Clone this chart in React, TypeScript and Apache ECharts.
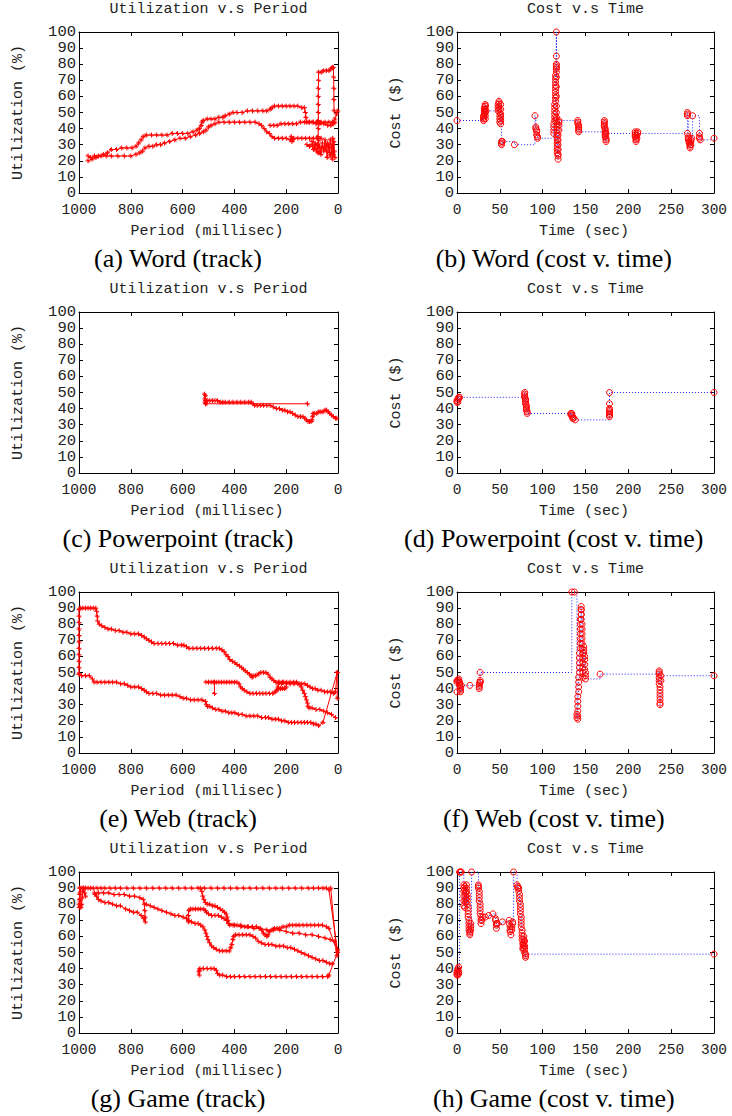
import React, { useEffect, useRef } from "react";
import * as echarts from "echarts";

type Pt = [number, number];

// ---------- (a) Word (track): [period ms, utilization %] ----------
const wordUpper: Pt[] = [
  [965, 23], [955, 22], [940, 23], [925, 23], [905, 24], [890, 25], [875, 27], [855, 27], [835, 28], [815, 28],
  [795, 28], [780, 29], [770, 31], [760, 33], [752, 35], [740, 36], [720, 36], [700, 36], [680, 36], [660, 36],
  [640, 37], [620, 37], [600, 37], [580, 37], [560, 38], [545, 39], [535, 40], [528, 42], [525, 44], [520, 45],
  [505, 46], [490, 46], [475, 46], [460, 47], [445, 47], [435, 48], [420, 49], [405, 50], [390, 50], [370, 50],
  [350, 51], [330, 51], [310, 51], [290, 51], [275, 51], [262, 52], [255, 53], [245, 54], [230, 54], [215, 54],
  [200, 54], [185, 54], [170, 54], [155, 54], [140, 53], [130, 53], [126, 50], [124, 47], [122, 44], [110, 44],
  [95, 44], [80, 44], [65, 44], [50, 44], [35, 44], [22, 44], [12, 46], [6, 49], [1, 51],
];
const wordLower: Pt[] = [
  [965, 20], [950, 21], [935, 22], [915, 23], [895, 23], [875, 23], [850, 23], [825, 23], [800, 23], [780, 24],
  [765, 25], [755, 26], [745, 28], [730, 29], [715, 29], [700, 30], [685, 30], [670, 31], [650, 32], [630, 33],
  [610, 34], [590, 34], [570, 35], [550, 36], [535, 37], [520, 38], [510, 39], [500, 41], [490, 42], [475, 43],
  [460, 44], [440, 44], [420, 44], [400, 44], [380, 44], [360, 44], [340, 44], [320, 44], [305, 43], [295, 42],
  [285, 40], [275, 38], [265, 37], [255, 35], [245, 34], [230, 34], [215, 34], [200, 34], [185, 33], [180, 35],
  [178, 32], [175, 33], [170, 34], [155, 34], [140, 34], [125, 34], [110, 34], [95, 34], [80, 34], [65, 34],
];
const wordMid: Pt[] = [
  [262, 42], [248, 42], [235, 42], [220, 43], [205, 43], [190, 43], [175, 43], [160, 43], [145, 44], [130, 44],
  [115, 44], [100, 44], [85, 43], [70, 43], [55, 43], [40, 42], [28, 42], [18, 43], [12, 44],
];
const wordSpike: Pt[] = [
  [78, 25], [77, 30], [77, 35], [76, 40], [76, 45], [76, 50], [76, 55], [76, 60], [76, 65], [75, 70],
  [75, 75], [65, 75], [55, 76], [45, 76], [35, 76], [28, 77], [22, 78], [18, 78], [17, 72], [16, 65],
  [16, 58], [15, 51],
];
const wordNoise: Pt[] = [
  [120, 30], [110, 29], [100, 30], [95, 27], [88, 31], [82, 26], [75, 33], [70, 28], [66, 24], [60, 31],
  [55, 26], [50, 33], [46, 29], [42, 22], [38, 30], [34, 25], [30, 33], [26, 28], [22, 21], [20, 30],
  [18, 24], [16, 32], [14, 26], [12, 22], [20, 34], [30, 23], [40, 31], [50, 27], [60, 29], [70, 25],
  [80, 30], [90, 28], [100, 32],
];

// ---------- (b) Word (cost v. time): [sec, $] ----------
const wordCost: Pt[] = [
  [0, 45],
  [31, 45], [31, 46], [31, 47], [31, 48], [32, 49], [32, 50], [32, 51], [32, 52], [32, 53], [33, 54], [33, 55],
  [33, 54], [33, 52], [33, 50], [33, 48], [33, 46], [34, 51],
  [48, 51], [48, 53], [48, 55], [49, 57], [49, 56], [49, 54], [49, 52], [50, 50], [50, 48], [50, 46], [50, 44],
  [51, 43], [51, 45], [51, 47], [51, 49], [51, 52], [51, 55],
  [52, 32], [52, 31], [52, 30], [53, 32], [67, 30],
  [91, 48], [92, 41], [92, 40], [93, 39], [93, 38], [93, 36], [94, 35], [94, 34],
  [113, 37], [113, 39], [113, 41], [113, 43], [114, 45], [114, 47], [114, 49], [114, 51], [114, 53], [114, 55],
  [115, 57], [115, 59], [115, 61], [115, 63], [115, 65], [115, 67], [115, 69], [115, 71], [115, 73], [116, 75],
  [116, 77], [116, 79], [116, 80], [116, 85], [116, 100], [116, 78], [116, 72], [116, 66], [116, 60], [116, 54],
  [116, 50], [116, 47], [116, 45], [117, 43], [117, 41], [117, 39], [117, 37], [117, 35], [117, 33], [117, 31],
  [117, 29], [117, 27], [117, 25], [118, 23], [118, 21], [118, 24], [118, 27], [118, 30], [118, 33], [118, 36],
  [119, 39], [119, 42], [119, 44], [119, 45],
  [141, 45], [141, 44], [141, 43], [142, 42], [142, 41], [142, 40], [142, 39], [142, 38],
  [172, 45], [172, 44], [172, 43], [172, 42], [172, 41], [173, 40], [173, 39], [173, 38], [173, 37], [173, 36],
  [173, 35], [174, 34], [174, 33], [174, 32], [174, 37],
  [208, 38], [208, 37], [208, 36], [208, 35], [209, 34], [209, 33], [209, 32], [210, 34], [210, 36], [211, 38],
  [211, 37],
  [269, 37], [269, 50], [269, 49], [269, 48], [270, 35], [270, 34], [270, 33], [271, 32], [271, 31], [272, 30],
  [272, 29], [272, 28], [273, 30], [273, 32], [273, 33], [274, 34], [275, 48],
  [283, 37], [283, 35], [283, 34], [284, 33], [300, 34],
];

// ---------- (c) Powerpoint (track) ----------
const pptTrack: Pt[] = [
  [515, 49], [514, 46], [513, 44], [512, 48], [511, 45], [510, 43], [505, 45], [495, 45], [485, 45], [475, 45],
  [465, 45], [455, 44], [445, 44], [435, 44], [420, 44], [405, 44], [390, 44], [375, 44], [360, 44], [345, 44],
  [335, 44], [328, 43], [322, 42], [312, 42], [300, 42], [288, 42], [275, 42], [262, 42], [250, 41], [238, 40],
  [226, 40], [215, 39], [205, 39], [195, 38], [185, 38], [175, 37], [165, 36], [155, 35], [145, 35], [135, 35],
  [128, 34], [122, 33], [116, 32], [110, 32], [104, 32], [100, 33], [98, 35], [96, 37], [90, 37], [82, 37],
  [74, 38], [66, 38], [58, 38], [50, 39], [44, 39], [38, 38], [32, 37], [25, 36], [18, 35], [10, 34], [5, 34],
];
const pptFlat: Pt[] = [[512, 43], [118, 43]];

// ---------- (d) Powerpoint (cost v. time) ----------
const pptCost: Pt[] = [
  [0, 44], [0, 45], [1, 44], [1, 46], [2, 47], [2, 46], [3, 47],
  [79, 50], [79, 49], [79, 48], [79, 47], [80, 46], [80, 45], [80, 44], [80, 43], [81, 42], [81, 41], [81, 40],
  [81, 39], [82, 38], [82, 37],
  [133, 37], [133, 36], [134, 37], [134, 36], [135, 35], [135, 34], [136, 34], [138, 33],
  [178, 35], [178, 36], [178, 37], [178, 38], [178, 39], [178, 40], [178, 43], [178, 50], [300, 50],
];

// ---------- (e) Web (track) ----------
const webUpper: Pt[] = [
  [1000, 49], [1000, 53], [1000, 57], [1000, 61], [1000, 65], [1000, 69], [1000, 73], [1000, 77], [1000, 81], [1000, 85],
  [1000, 89], [995, 90], [985, 90], [975, 90], [965, 90], [955, 90], [945, 90], [935, 90], [932, 88], [930, 85],
  [928, 82], [922, 80], [912, 79], [900, 78], [888, 77], [875, 77], [860, 76], [845, 76], [830, 75], [815, 75],
  [800, 74], [785, 74], [770, 74], [758, 73], [748, 72], [740, 71], [730, 70], [720, 69], [710, 68], [695, 68],
  [680, 68], [665, 68], [650, 68], [635, 68], [620, 67], [605, 67], [595, 67], [585, 66], [575, 65], [560, 65],
  [545, 65], [530, 65], [515, 65], [500, 65], [485, 65], [470, 65], [458, 65], [448, 64], [440, 63], [432, 61],
  [425, 60], [418, 58], [408, 57], [398, 56], [390, 55], [380, 54], [372, 53], [365, 52], [358, 51], [350, 50],
  [342, 49], [336, 48], [332, 47], [328, 48], [318, 48], [308, 49], [298, 50], [288, 50], [278, 50], [270, 49],
  [262, 47], [255, 46], [248, 45], [240, 44], [228, 44], [215, 44], [200, 43], [185, 43], [170, 43], [155, 43],
  [140, 43], [128, 43], [118, 42], [108, 41], [98, 40], [88, 40], [78, 39], [65, 39], [52, 38], [40, 38],
  [28, 38], [18, 37], [10, 38], [3, 50], [3, 34],
];
const webLower: Pt[] = [
  [1000, 49], [990, 48], [975, 48], [960, 48], [948, 46], [942, 44], [930, 44], [915, 44], [900, 44], [885, 44],
  [870, 44], [855, 44], [840, 43], [825, 43], [812, 42], [800, 41], [785, 41], [770, 41], [758, 40], [748, 39],
  [740, 38], [730, 37], [715, 37], [700, 37], [685, 36], [670, 36], [655, 36], [640, 36], [625, 36], [610, 35],
  [598, 34], [585, 34], [570, 33], [555, 33], [540, 33], [525, 33], [512, 32], [508, 30], [504, 29], [495, 29],
  [485, 28], [472, 27], [460, 27], [448, 26], [435, 26], [422, 25], [410, 25], [398, 25], [385, 24], [370, 24],
  [355, 23], [340, 23], [325, 23], [310, 23], [295, 22], [280, 22], [268, 22], [255, 21], [242, 21], [230, 21],
  [218, 20], [205, 20], [192, 19], [180, 19], [168, 19], [155, 19], [142, 19], [130, 19], [118, 19], [105, 19],
  [95, 18], [85, 18], [75, 17], [58, 19], [3, 50],
];
const webMid: Pt[] = [
  [510, 44], [500, 44], [490, 44], [480, 44], [470, 44], [460, 44], [450, 44], [440, 44], [430, 44], [420, 44],
  [410, 44], [400, 44], [390, 44], [382, 43], [376, 41], [370, 40], [362, 39], [352, 38], [340, 37], [328, 37],
  [315, 37], [302, 37], [290, 37], [278, 37], [265, 37], [252, 37], [242, 38], [236, 39], [232, 41], [230, 43],
  [228, 44], [218, 43], [210, 44], [198, 44], [185, 44], [172, 44], [160, 44], [150, 43], [142, 41], [136, 39],
  [130, 37], [126, 35], [122, 33], [118, 31], [116, 29], [112, 28], [100, 28], [85, 27], [70, 27], [55, 26],
  [40, 25], [25, 24], [10, 22],
];
const webStem: Pt[] = [[477, 44], [477, 37]];
const webBlip: Pt[] = [[230, 40], [222, 40], [214, 40], [206, 40], [200, 41]];

// ---------- (f) Web (cost v. time) ----------
const webCost: Pt[] = [
  [0, 45], [0, 44], [0, 38], [1, 45], [2, 46], [2, 45], [3, 44], [3, 43], [3, 42], [4, 41], [4, 40], [4, 39],
  [4, 38], [5, 42], [15, 42],
  [26, 40], [26, 41], [26, 42], [26, 43], [27, 44], [27, 45], [27, 44], [27, 50],
  [134, 100], [137, 100],
  [140, 22], [140, 24], [141, 21], [141, 23], [141, 26], [141, 29], [141, 32], [141, 35], [142, 38], [142, 41],
  [142, 44], [142, 47], [143, 50], [143, 53], [143, 56], [143, 59], [143, 62], [144, 65], [144, 68], [144, 71],
  [144, 74], [144, 77], [144, 80], [144, 83], [145, 86], [145, 89], [145, 91], [145, 89], [145, 86], [145, 83],
  [146, 80], [146, 77], [146, 74], [146, 71], [146, 68], [146, 65], [147, 62], [147, 59], [147, 56], [147, 53],
  [147, 50], [147, 47], [148, 66], [148, 64], [148, 62], [149, 60], [149, 58], [149, 55], [149, 52], [150, 50],
  [150, 48], [150, 46], [167, 49],
  [236, 51], [236, 50], [236, 49], [236, 47], [236, 45], [236, 43], [237, 41], [237, 39], [237, 37], [237, 35],
  [237, 33], [237, 31], [237, 30], [238, 45], [238, 48], [300, 48],
];

// ---------- (g) Game (track) ----------
const gameTop: Pt[] = [
  [1000, 80], [999, 78], [998, 83], [996, 87], [993, 90], [985, 90], [975, 90], [965, 90], [955, 90], [945, 90],
  [930, 90], [915, 90], [900, 90], [880, 90], [860, 90], [840, 90], [815, 90], [790, 90], [765, 90], [740, 90],
  [715, 90], [690, 90], [665, 90], [640, 90], [615, 90], [590, 90], [565, 90], [540, 90], [515, 90], [490, 90],
  [465, 90], [440, 90], [415, 90], [390, 90], [365, 90], [340, 90], [315, 90], [290, 90], [265, 90], [240, 90],
  [215, 90], [190, 90], [165, 90], [140, 90], [115, 90], [95, 90], [75, 90], [58, 90], [45, 90], [35, 89],
  [2, 51],
];
const gameLeft: Pt[] = [
  [998, 90], [997, 86], [996, 82], [995, 79], [993, 78], [990, 80], [988, 84], [985, 88], [982, 90], [978, 87],
  [975, 85],
];
const gameEdge: Pt[] = [[28, 90], [4, 48]];
const gameLoop: Pt[] = [
  [940, 87], [925, 87], [905, 87], [885, 87], [865, 86], [845, 86], [825, 86], [805, 85], [785, 85], [765, 84],
  [752, 83], [748, 80], [746, 76], [745, 72], [744, 69], [750, 71], [760, 73], [775, 75], [790, 75], [805, 76],
  [820, 77], [840, 79], [855, 79], [870, 80], [885, 81], [900, 81], [915, 82], [925, 83], [932, 85], [938, 86],
];
const gameDiag: Pt[] = [
  [740, 80], [725, 79], [710, 78], [695, 77], [680, 76], [662, 75], [645, 74], [630, 73], [615, 73], [598, 72],
  [585, 71], [575, 70], [565, 69], [552, 68], [540, 68], [530, 67], [522, 66], [514, 64], [510, 62], [506, 60],
  [502, 58], [496, 56], [488, 54], [480, 53], [470, 52], [458, 51], [445, 51], [432, 51], [420, 51], [414, 53],
  [410, 55], [406, 58], [403, 60], [395, 61], [382, 61], [368, 61], [354, 61], [340, 61], [328, 60], [318, 59],
  [308, 57], [296, 56], [282, 55], [268, 55], [255, 55], [240, 54], [225, 54], [210, 54], [196, 53], [182, 53],
  [168, 52], [155, 51], [142, 50], [128, 49], [114, 48], [100, 47], [86, 46], [72, 45], [58, 45], [45, 44],
  [32, 43], [22, 43],
];
const gameQ: Pt[] = [
  [530, 90], [526, 88], [522, 85], [518, 83], [512, 81], [505, 80], [495, 80], [485, 79], [475, 79], [465, 78],
  [455, 77], [445, 76], [438, 75], [432, 74], [428, 72], [425, 70], [422, 68], [418, 67], [405, 67], [390, 67],
  [375, 67], [360, 66], [345, 66], [330, 66], [315, 66], [305, 65], [295, 64], [288, 62], [282, 61], [275, 60],
  [270, 61], [265, 63], [255, 64], [245, 65], [235, 65], [225, 65], [212, 66], [200, 66], [188, 67], [175, 67],
  [162, 67], [150, 67], [135, 67], [120, 67], [105, 67], [90, 67], [75, 67], [60, 67], [45, 66], [35, 65],
  [2, 50],
];
const gameBump: Pt[] = [
  [578, 69], [578, 73], [576, 76], [570, 77], [560, 77], [550, 77], [540, 77], [530, 77], [518, 77], [512, 76],
  [508, 75], [500, 74], [488, 73], [475, 73], [462, 73], [450, 72], [440, 71], [430, 70], [422, 68],
];
const gameSlope: Pt[] = [
  [422, 68], [400, 67], [375, 66], [350, 66], [325, 65], [300, 65], [275, 64], [250, 64], [225, 64], [200, 63],
  [175, 62], [150, 62], [125, 61], [100, 61], [75, 60], [50, 59], [30, 58], [15, 57], [2, 52],
];
const gameBottom: Pt[] = [
  [536, 36], [537, 38], [535, 39], [533, 40], [520, 40], [505, 40], [490, 40], [478, 40], [470, 39], [465, 37],
  [458, 36], [445, 36], [430, 35], [415, 35], [400, 35], [380, 35], [360, 35], [340, 35], [320, 35], [300, 35],
  [280, 35], [260, 35], [240, 35], [220, 35], [200, 35], [180, 35], [160, 35], [140, 35], [120, 35], [100, 35],
  [80, 35], [60, 35], [40, 35], [35, 36], [2, 50],
];

// ---------- (h) Game (cost v. time) ----------
const gameCost: Pt[] = [
  [0, 36], [0, 37], [0, 38], [1, 36], [1, 39], [1, 40], [2, 41], [2, 38], [2, 37], [3, 100], [4, 100], [5, 100],
  [8, 92], [8, 90], [8, 88], [8, 85], [8, 82], [8, 79], [9, 78], [9, 91], [9, 89], [10, 87], [10, 85], [10, 83],
  [10, 81], [11, 92], [11, 90], [11, 88], [12, 86], [12, 84], [12, 82], [12, 80], [13, 78], [13, 76], [13, 74],
  [13, 72], [14, 70], [14, 68], [14, 66], [14, 64], [15, 63], [15, 62], [15, 61], [16, 64], [16, 66], [16, 68],
  [17, 100],
  [25, 92], [25, 91], [25, 90], [26, 88], [26, 86], [26, 84], [26, 82], [27, 80], [27, 78], [27, 76], [27, 74],
  [28, 72], [28, 70], [28, 68], [29, 70], [30, 72], [33, 72], [37, 73], [42, 74], [45, 71], [45, 70], [46, 68],
  [46, 67], [46, 65], [47, 68], [53, 69],
  [61, 70], [61, 68], [62, 66], [62, 64], [62, 63], [63, 61], [64, 64], [64, 66], [65, 68], [65, 69], [66, 100],
  [70, 92], [71, 91], [71, 90], [72, 90], [72, 88], [73, 86], [73, 84], [73, 82], [74, 80], [74, 78], [74, 76],
  [74, 74], [75, 72], [75, 70], [75, 68], [75, 66], [76, 64], [76, 62], [76, 60], [76, 58], [77, 56], [77, 55],
  [77, 53], [77, 52], [78, 54], [78, 56], [78, 58], [78, 60], [79, 57], [79, 54], [79, 52], [79, 50], [80, 48],
  [80, 47], [80, 49], [300, 49],
];

const trackTitle = "Utilization v.s Period";
const costTitle = "Cost v.s Time";
const trackXName = "Period (millisec)";
const costXName = "Time (sec)";
const trackYName = "Utilization (%)";
const costYName = "Cost ($)";

const captions = [
  "(a) Word (track)", "(b) Word (cost v. time)",
  "(c) Powerpoint (track)", "(d) Powerpoint (cost v. time)",
  "(e) Web (track)", "(f) Web (cost v. time)",
  "(g) Game (track)", "(h) Game (cost v. time)",
];

const trackSets: Pt[][][] = [
  [wordUpper, wordLower, wordMid, wordSpike, wordNoise],
  [pptTrack, pptFlat],
  [webUpper, webLower, webMid, webStem, webBlip],
  [gameTop, gameLeft, gameEdge, gameLoop, gameDiag, gameQ, gameBump, gameSlope, gameBottom],
];
const costSets: Pt[][] = [wordCost, pptCost, webCost, gameCost];

const MONO = "'Liberation Mono', 'DejaVu Sans Mono', monospace";
const SERIF = "'Liberation Serif', 'DejaVu Serif', serif";
const TXT = "#222";

const COL_LEFT = [79, 457];
const COL_W = [259, 257];
const TOP0 = 32;
const PLOT_H = 161;
const ROW_H = 280;

export default function App() {
  const ref = useRef<HTMLDivElement>(null);
  useEffect(() => {
    document.body.style.margin = "0";
    if (!ref.current) return;
    const chart = echarts.init(ref.current, undefined, { renderer: "svg" });

    const grid: any[] = [];
    const xAxis: any[] = [];
    const yAxis: any[] = [];
    const series: any[] = [];
    const graphic: any[] = [];

    const mkX = (i: number, track: boolean, mirror: boolean) => ({
      gridIndex: i,
      type: "value",
      min: 0,
      max: track ? 1000 : 300,
      interval: track ? 200 : 50,
      inverse: track,
      position: mirror ? "top" : "bottom",
      axisLine: { show: true, onZero: false, lineStyle: { color: "#000", width: 1 } },
      axisTick: { show: true, inside: true, length: 4, lineStyle: { color: "#000", width: 1 } },
      axisLabel: {
        show: !mirror, margin: 9, fontFamily: MONO, fontSize: 14.5, color: TXT,
        showMinLabel: true, showMaxLabel: true, interval: 0,
        formatter: (v: number) => String(v),
      },
      splitLine: { show: false },
    });
    const mkY = (i: number, mirror: boolean) => ({
      gridIndex: i,
      type: "value",
      min: 0,
      max: 100,
      interval: 10,
      position: mirror ? "right" : "left",
      axisLine: { show: true, onZero: false, lineStyle: { color: "#000", width: 1 } },
      axisTick: { show: true, inside: true, length: 4, lineStyle: { color: "#000", width: 1 } },
      axisLabel: {
        show: !mirror, margin: 3, fontFamily: MONO, fontSize: 15.5, color: TXT,
        showMinLabel: true, showMaxLabel: true, interval: 0,
        formatter: (v: number) => String(v),
      },
      splitLine: { show: false },
    });

    for (let row = 0; row < 4; row++) {
      for (let col = 0; col < 2; col++) {
        const i = row * 2 + col;
        const track = col === 0;
        const top = TOP0 + row * ROW_H;
        const left = COL_LEFT[col];
        const w = COL_W[col];
        grid.push({ left, top, width: w, height: PLOT_H, containLabel: false });
        xAxis[i] = mkX(i, track, false);
        xAxis[8 + i] = mkX(i, track, true);
        yAxis[i] = mkY(i, false);
        yAxis[8 + i] = mkY(i, true);

        if (track) {
          trackSets[row].forEach((d) => {
            series.push({
              type: "line",
              xAxisIndex: i,
              yAxisIndex: i,
              data: d,
              clip: false,
              symbol: "path://M0,5L10,5M5,0L5,10M2,2L8,8",
              symbolSize: 5,
              showSymbol: true,
              lineStyle: { color: "#ff0000", width: 1 },
              itemStyle: { color: "rgba(0,0,0,0)", borderColor: "#ff0000", borderWidth: 1 },
              emphasis: { disabled: true },
              z: 2,
            });
          });
        } else {
          series.push({
            type: "line",
            xAxisIndex: i,
            yAxisIndex: i,
            data: costSets[row],
            step: "end",
            clip: false,
            symbol: "circle",
            symbolSize: 6,
            showSymbol: true,
            lineStyle: { color: "#1f1fff", width: 1, type: [1, 2] },
            itemStyle: { color: "rgba(0,0,0,0)", borderColor: "#ff0000", borderWidth: 1 },
            emphasis: { disabled: true },
            z: 2,
          });
        }

        const cx = left + w / 2;
        graphic.push({
          type: "text", x: cx, y: 9.5 + row * ROW_H,
          style: { text: track ? trackTitle : costTitle, font: `15px ${MONO}`, fill: TXT, align: "center", verticalAlign: "middle" },
        });
        graphic.push({
          type: "text", x: track ? 207 : 584, y: 231 + row * ROW_H,
          style: { text: track ? trackXName : costXName, font: `15px ${MONO}`, fill: TXT, align: "center", verticalAlign: "middle" },
        });
        graphic.push({
          type: "text", x: track ? 18.5 : 396.7, y: 112.5 + row * ROW_H, rotation: Math.PI / 2,
          style: { text: track ? trackYName : costYName, font: `15px ${MONO}`, fill: TXT, align: "center", verticalAlign: "middle" },
        });
        graphic.push({
          type: "text", x: track ? 178 : 553.8, y: 258 + row * ROW_H,
          style: { text: captions[i], font: `26px ${SERIF}`, fill: "#000", align: "center", verticalAlign: "middle" },
        });
      }
    }

    chart.setOption({
      animation: false,
      backgroundColor: "#fff",
      grid,
      xAxis,
      yAxis,
      series,
      graphic,
    });
    return () => chart.dispose();
  }, []);
  return <div ref={ref} style={{ width: 732, height: 1116 }} />;
}
